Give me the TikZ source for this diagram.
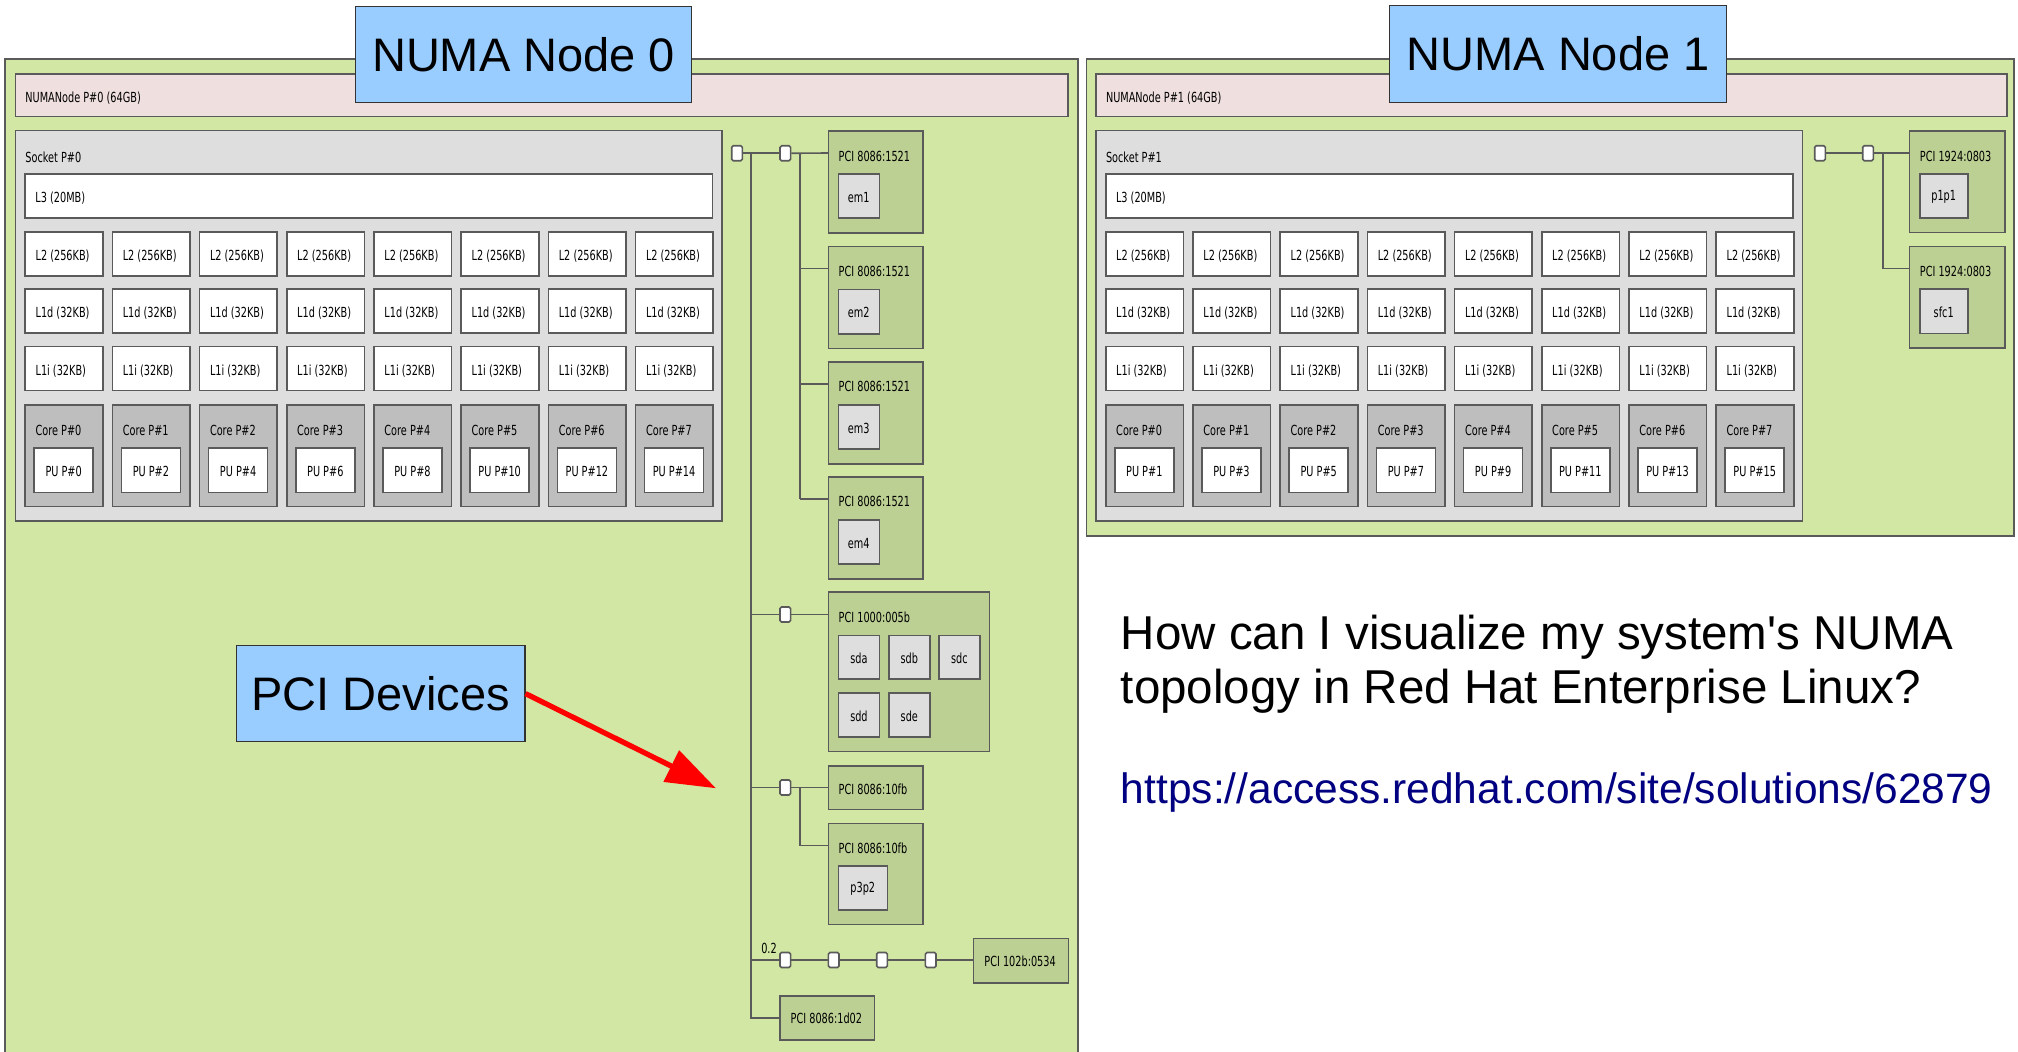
\documentclass[tikz,border=0pt]{standalone}
\usepackage{fontspec}
\setmainfont{Liberation Sans}
\newfontfamily\hwfont[FakeStretch=0.7]{DejaVu Sans}
\usetikzlibrary{arrows.meta,calc}

\definecolor{epoxy}{HTML}{D2E7A4}
\definecolor{pcidev}{HTML}{BDD094}
\definecolor{memory}{HTML}{EFDFDE}
\definecolor{package}{HTML}{DEDEDE}
\definecolor{corecol}{HTML}{BEBEBE}
\definecolor{osdev}{HTML}{DEDEDE}
\definecolor{edge}{HTML}{5A5A5A}
\definecolor{callout}{HTML}{99CCFF}
\definecolor{linkblue}{HTML}{000080}

\tikzset{
  hw/.style={draw=edge, line width=0.8pt, inner sep=0pt, outer sep=0pt, anchor=north west},
  hwtxt/.style={font=\fontsize{6.95}{8}\hwfont, inner sep=0pt, text=black},
  bridge/.style={draw=edge, fill=white, line width=0.8pt, inner sep=0pt,
    minimum width=5.3pt, minimum height=7.5pt, rounded corners=0.8pt},
  wire/.style={draw=edge, line width=0.8pt},
  callout/.style={draw=black!80, line width=0.6pt, fill=callout, inner sep=0pt,
    anchor=north west, font=\fontsize{23.5}{28}\selectfont},
  question/.style={anchor=base west, inner sep=0pt, font=\fontsize{23.75}{28}\selectfont},
  pointer/.style={draw=red, line width=2.65pt, -{Triangle[length=25pt,width=17pt]}}
}

% box given by name, style, left, top, width, height (pixel units)
\newcommand\hwbox[6]{%
  \node[hw,#2,minimum width=#5*0.5pt,minimum height=#6*0.5pt] (#1) at (#3,#4) {};}

% one socket with its caches, cores and PUs: prefix, x offset, node number
\newcommand\socketblock[3]{%
  \hwbox{#1sock}{fill=package}{15.5+#2}{130.7}{706.5}{390.5}
  \node[hwtxt,anchor=west] (#1socklbl) at (25+#2,157.5) {Socket P\#{#3}};
  \hwbox{#1l3}{fill=white}{25.2+#2}{174}{687.4}{44.3}
  \node[hwtxt,anchor=west] (#1l3lbl) at (35+#2,198.5) {L3 (20MB)};
  \foreach \i in {0,...,7}{%
    \pgfmathsetmacro\cx{25.2+#2+87.2*\i}
    \pgfmathtruncatemacro\pu{2*\i+#3}
    \hwbox{#1ltwo\i}{fill=white}{\cx}{232.3}{77.6}{44}
    \node[hwtxt,anchor=west] (#1ltwolbl\i) at (\cx+10,256.6) {L2 (256KB)};
    \hwbox{#1lod\i}{fill=white}{\cx}{289.3}{77.6}{44}
    \node[hwtxt,anchor=west] (#1lodlbl\i) at (\cx+10,313.6) {L1d (32KB)};
    \hwbox{#1loi\i}{fill=white}{\cx}{346.7}{77.6}{44}
    \node[hwtxt,anchor=west] (#1loilbl\i) at (\cx+10,371) {L1i (32KB)};
    \hwbox{#1core\i}{fill=corecol}{\cx}{405}{77.6}{101.7}
    \node[hwtxt,anchor=west] (#1corelbl\i) at (\cx+10,430.5) {Core P\#\i};
    \hwbox{#1pu\i}{fill=white}{\cx+9}{448.3}{59}{44.4}
    \node[hwtxt] (#1pulbl\i) at ([yshift=-0.6pt]#1pu\i.center) {PU P\#\pu};
  }}

\begin{document}
\begin{tikzpicture}[x=0.5pt,y=-0.5pt]
\useasboundingbox (0,0) rectangle (2018,1052);
\fill[white] (0,0) rectangle (2018,1052);

% ---------------- NUMA node 0 ----------------
\hwbox{nzbox}{fill=epoxy}{5}{59.3}{1073}{1010}
\hwbox{nzmem}{fill=memory}{15.5}{74}{1052.5}{42.7}
\node[hwtxt,anchor=west] (nzmemlbl) at (25,98) {NUMANode P\#0 (64GB)};
\socketblock{nz}{0}{0}

% PCI tree of node 0
\node[bridge] (nzhost) at (737,153.3) {};
\node[bridge] (nzbrone) at (785.3,153.3) {};
\coordinate (nztrunk) at (751,153.3);
\coordinate (nzfork) at (800,153.3);
\draw[wire] (nzhost.east) -- (nzbrone.west);

\foreach \k/\t in {1/131,2/246.5,3/361.8,4/476.8}{%
  \hwbox{nznic\k}{fill=pcidev}{828.3}{\t}{94.4}{102}
  \node[hwtxt,anchor=west] (nzniclbl\k) at (838.3,\t+25) {PCI 8086:1521};
  \hwbox{nzem\k}{fill=osdev}{838.3}{\t+43}{41}{44.3}
  \node[hwtxt] (nzemlbl\k) at ([yshift=-0.6pt]nzem\k.center) {em\k};
  \coordinate (nznicin\k) at ([yshift=-11pt]nznic\k.north west);
}
\draw[wire] (nzbrone.east) -- (nznicin1);
\draw[wire] (nzfork) -- (nzfork |- nznicin4);
\foreach \k in {2,3,4}{\draw[wire] (nzfork |- nznicin\k) -- (nznicin\k);}

% storage controller
\node[bridge] (nzbrtwo) at (785.3,614.5) {};
\hwbox{nzraid}{fill=pcidev}{828.3}{592.3}{161}{159.4}
\node[hwtxt,anchor=west] (nzraidlbl) at (838.3,617.3) {PCI 1000:005b};
\foreach \d/\x/\y in {sda/838.3/635.7,sdb/888.7/635.7,sdc/938.7/635.7,sdd/838.3/693.3,sde/888.7/693.3}{%
  \hwbox{nz\d}{fill=osdev}{\x}{\y}{41.3}{43.6}
  \node[hwtxt] (nz\d lbl) at ([yshift=-0.6pt]nz\d.center) {\d};
}
\draw[wire] (nztrunk |- nzbrtwo) -- (nzbrtwo.west);
\draw[wire] (nzbrtwo.east) -- (nzbrtwo.east -| nzraid.west);

% 10G ethernet
\node[bridge] (nzbrthree) at (785.3,787.5) {};
\hwbox{nzethone}{fill=pcidev}{828.3}{765.7}{94.4}{43.6}
\node[hwtxt,anchor=west] (nzethonelbl) at (838.3,789.5) {PCI 8086:10fb};
\hwbox{nzethtwo}{fill=pcidev}{828.3}{823.3}{94.4}{101}
\node[hwtxt,anchor=west] (nzethtwolbl) at (838.3,848.3) {PCI 8086:10fb};
\hwbox{nzpthree}{fill=osdev}{838.3}{866}{49}{44}
\node[hwtxt] (nzpthreelbl) at ([yshift=-0.6pt]nzpthree.center) {p3p2};
\coordinate (nzforktwo) at (800,787.5);
\coordinate (nzethtwoin) at ([yshift=-11pt]nzethtwo.north west);
\draw[wire] (nztrunk |- nzbrthree) -- (nzbrthree.west);
\draw[wire] (nzbrthree.east) -- (nzbrthree.east -| nzethone.west);
\draw[wire] (nzforktwo) -- (nzforktwo |- nzethtwoin) -- (nzethtwoin);

% bridge chain to the VGA device
\node[bridge] (nzbrfour) at (785.3,960) {};
\node[bridge] (nzbrfive) at (833.7,960) {};
\node[bridge] (nzbrsix) at (882,960) {};
\node[bridge] (nzbrseven) at (930.7,960) {};
\node[hwtxt] (nzbuslbl) at (769,948.3) {0.2};
\hwbox{nzvga}{fill=pcidev}{973.3}{938.3}{95}{44.4}
\node[hwtxt,anchor=west] (nzvgalbl) at (984,961.5) {PCI 102b:0534};
\draw[wire] (nztrunk |- nzbrfour) -- (nzbrfour.west);
\draw[wire] (nzbrfour.east) -- (nzbrfive.west);
\draw[wire] (nzbrfive.east) -- (nzbrsix.west);
\draw[wire] (nzbrsix.east) -- (nzbrseven.west);
\draw[wire] (nzbrseven.east) -- (nzbrseven.east -| nzvga.west);

% chipset device
\hwbox{nzisa}{fill=pcidev}{780}{995.7}{94.3}{44.3}
\node[hwtxt,anchor=west] (nzisalbl) at (790.3,1018.8) {PCI 8086:1d02};
\draw[wire] (nztrunk) -- (nztrunk |- nzisa.west) -- (nzisa.west);

% ---------------- NUMA node 1 ----------------
\hwbox{nobox}{fill=epoxy}{1086.5}{59.3}{927.5}{477}
\hwbox{nomem}{fill=memory}{1096}{74}{911}{42.7}
\node[hwtxt,anchor=west] (nomemlbl) at (1105.6,98) {NUMANode P\#1 (64GB)};
\socketblock{no}{1080.6}{1}

\node[bridge] (nohost) at (1820,153.3) {};
\node[bridge] (nobrone) at (1868,153.3) {};
\coordinate (nofork) at (1882.7,153.3);
\hwbox{nonicone}{fill=pcidev}{1909.5}{131}{95.5}{101.7}
\node[hwtxt,anchor=west] (noniconelbl) at (1919.5,156) {PCI 1924:0803};
\hwbox{nopone}{fill=osdev}{1919.7}{174}{48}{44.3}
\node[hwtxt] (noponelbl) at ([yshift=-0.6pt]nopone.center) {p1p1};
\hwbox{nonictwo}{fill=pcidev}{1909.5}{246.6}{95.5}{101.7}
\node[hwtxt,anchor=west] (nonictwolbl) at (1919.5,271.6) {PCI 1924:0803};
\hwbox{nosfc}{fill=osdev}{1919.7}{289.3}{48}{44.3}
\node[hwtxt] (nosfclbl) at ([yshift=-0.6pt]nosfc.center) {sfc1};
\coordinate (nonictwoin) at ([yshift=-11pt]nonictwo.north west);
\draw[wire] (nohost.east) -- (nobrone.west);
\draw[wire] (nobrone.east) -- (nobrone.east -| nonicone.west);
\draw[wire] (nofork) -- (nofork |- nonictwoin) -- (nonictwoin);

% ---------------- callouts ----------------
\node[callout,minimum width=168pt,minimum height=48pt] (nztitle) at (355,6) {NUMA Node 0};
\node[callout,minimum width=168.5pt,minimum height=48.5pt] (notitle) at (1389,5) {NUMA Node 1};
\node[callout,minimum width=144.3pt,minimum height=48pt] (pcilbl) at (235.7,645) {PCI Devices};
\coordinate (pcitip) at (716,788.3);
\draw[pointer] (pcilbl.east) -- (pcitip);

\node[question] (qone) at (1120.5,650) {How can I visualize my system\textquotesingle s NUMA};
\node[question] (qtwo) at (1120.5,703.3) {topology in Red Hat Enterprise Linux?};
\node[question,text=linkblue,font=\fontsize{21.25}{26}\selectfont] (url) at (1120.5,803.3)
  {https://access.redhat.com/site/solutions/62879};
\end{tikzpicture}
\end{document}
